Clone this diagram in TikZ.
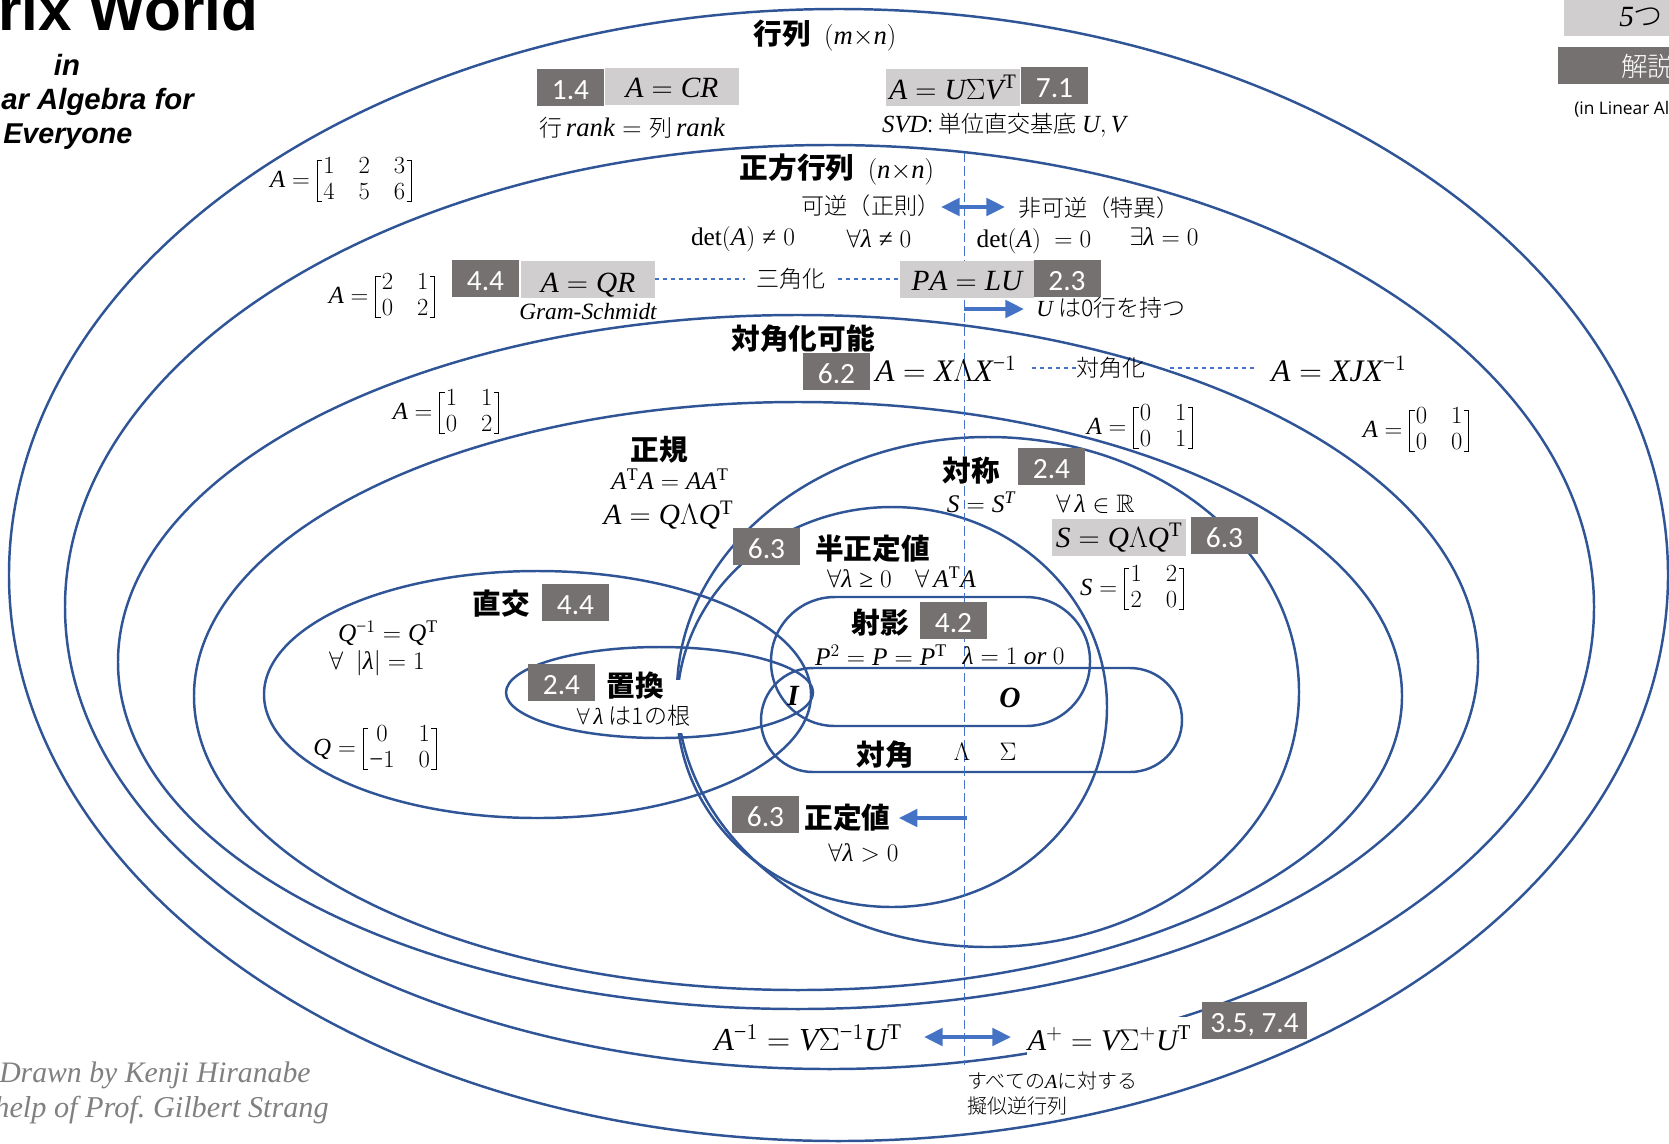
\RequirePackage{fix-cm}
\documentclass[tikz,border=0pt]{standalone}
\usepackage{amsmath,amssymb}
\usepackage{fontspec}
\setmainfont{Liberation Serif}
\usetikzlibrary{arrows.meta}
\newfontfamily\jpfont{Noto Sans CJK JP}
\newfontfamily\jplight{Noto Sans CJK JP Light}
\newfontfamily\lsans{Liberation Sans}
\newfontfamily\lserif{Liberation Serif}
\newfontfamily\calib{Carlito}
\newfontfamily\osans{Open Sans}
\DeclareSymbolFont{lsit}{TU}{\rmdefault}{m}{it}
\newcount\ltr
\ltr=`A \loop \Umathcode\ltr=7 \symlsit \ltr \ifnum\ltr<`Z \advance\ltr 1 \repeat
\ltr=`a \loop \Umathcode\ltr=7 \symlsit \ltr \ifnum\ltr<`z \advance\ltr 1 \repeat
\ltr=`0 \loop \Umathcode\ltr=7 \symoperators \ltr \ifnum\ltr<`9 \advance\ltr 1 \repeat
\Umathchardef\lambda=7 \symlsit "03BB
\Umathchardef\Sigma=7 \symoperators "03A3
\Umathchardef\Lambda=7 \symoperators "039B
\Umathcode`-=2 \symoperators "2212
\Umathcode`+=2 \symoperators `+
\Umathcode`==3 \symoperators `=
\Umathcode`(=4 \symoperators `(
\Umathcode`)=5 \symoperators `)
\Umathchardef\geq=3 \symoperators "2265
\let\neq\relax
\Umathchardef\neq=3 \symoperators "2260
\definecolor{arcblue}{HTML}{2F5597}
\definecolor{linkblue}{HTML}{4472C4}
\definecolor{boxdark}{HTML}{767171}
\definecolor{boxlight}{HTML}{D0CECE}
\newcommand{\brL}{\mathopen{\vcenter{\hbox{\vrule width .8pt height 32pt depth 0pt\kern-.8pt\vbox to 32pt{\hrule width 4pt height .8pt\vfill\hrule width 4pt height .8pt}\kern 1pt}}}}
\newcommand{\brR}{\mathclose{\vcenter{\hbox{\kern 1pt\vbox to 32pt{\hrule width 4pt height .8pt\vfill\hrule width 4pt height .8pt}\kern-.8pt\vrule width .8pt height 32pt depth 0pt}}}}
\newcommand{\mymat}[3][9pt]{\brL{\setlength{\arraycolsep}{#1}\begin{array}{@{}#2@{}}#3\end{array}}\brR}
\newcommand{\tp}{^{\mathrm{T}}}
\newcommand{\fwL}{\symbol{"FF08}}
\newcommand{\fwR}{\symbol{"FF09}}
\frenchspacing
\tikzset{
  every node/.style={inner sep=0pt,text=black},
  curve/.style={draw=arcblue,line width=1.85pt},
  dk/.style={fill=boxdark,text=white,minimum width=50.25pt,minimum height=27.75pt,text height=17.3pt,text depth=0pt,font=\fontsize{22}{24}\calib},
  lt/.style={fill=boxlight,minimum width=100.5pt,minimum height=27.75pt,font=\fontsize{22}{24}\selectfont},
  jb/.style={font=\fontsize{21.5}{24}\jpfont\bfseries},
  jp/.style={font=\fontsize{17.3}{20}\jplight},
  fbig/.style={font=\fontsize{22}{24}\selectfont},
  fmed/.style={font=\fontsize{19}{21}\selectfont},
  fmat/.style={font=\fontsize{18.5}{20}\selectfont},
  mixed/.style={font=\fontsize{17.3}{20}\jplight},
  titlef/.style={font=\fontsize{22}{24}\lsans\bfseries\itshape},
  credit/.style={font=\fontsize{22.3}{26}\lserif\itshape,text=black!50},
  link/.style={draw=linkblue,line width=0.8pt,dashed},
  bigarrow/.style={draw=linkblue,line width=3pt,-{Triangle[length=14pt,width=13pt]}},
  bigboth/.style={draw=linkblue,line width=3pt,{Triangle[length=14pt,width=13pt]}-{Triangle[length=14pt,width=13pt]}},
}
\begin{document}
\begin{tikzpicture}[x=0.75pt,y=-0.75pt]
\useasboundingbox (0,0) rectangle (1669,1143);
% nested regions
\draw[curve] (838.5,575) ellipse [x radius=829.5,y radius=566];
\draw[curve] (829.5,607) ellipse [x radius=764.5,y radius=462];
\draw[curve] (798,662) ellipse [x radius=680,y radius=347];
\draw[curve] (798,696) ellipse [x radius=604,y radius=294];
\draw[curve] (988,692) ellipse [x radius=311,y radius=255];
\draw[curve] (892,707) ellipse [x radius=215,y radius=200];
% white patches behind texts
\fill[white] (660,680) rectangle (695,733);
\fill[white] (1027,1017) rectangle (1190,1056);
% further regions
\draw[curve] (537.5,694.5) ellipse [x radius=273.5,y radius=123.5];
\draw[curve] (659.5,692.5) ellipse [x radius=153.5,y radius=45.5];
\draw[curve,rounded corners=48pt] (771,597) rectangle (1090,726);
\draw[curve,rounded corners=39pt] (761,668) rectangle (1182,772);
% dashed axis
\coordinate (axistop) at (964,153);
\coordinate (axisbot) at (964,1065);
\draw[draw=linkblue,line width=0.7pt,dash pattern=on 7pt off 3pt] (axistop) -- (axisbot);

% top left title
\node[anchor=east,font=\fontsize{45.2}{50}\lsans\bfseries] (title) at (258.5,9) {trix World};
\node[titlef] (tin) at (67,65) {in};
\node[titlef,anchor=east] (tla) at (194,102) {ar Algebra for};
\node[titlef,anchor=west,font=\fontsize{21.5}{24}\lsans\bfseries\itshape] (tev) at (3,137) {Everyone};
% credits
\node[credit,anchor=west] (cr1) at (-1,1075) {Drawn by Kenji Hiranabe};
\node[credit,anchor=east,font=\fontsize{22.7}{26}\lserif\itshape] (cr2) at (329,1110) {help of Prof. Gilbert Strang};
% top right
\fill[boxlight] (1564,0) rectangle (1669,36);
\node[anchor=west,font=\fontsize{22}{24}\lserif\itshape] (legAt) at (1619,17) {5\jplight\upshape つ};
\fill[boxdark] (1558,47) rectangle (1669,84);
\node[anchor=west,text=white,font=\fontsize{20}{24}\jplight] (legBt) at (1621,66) {解説};
\node[anchor=west,font=\fontsize{13}{16}\osans] (legC) at (1574,109) {(in Linear Al};

% matrices m x n
\node (mxn) at (825,36) {\fontsize{21.5}{24}\jpfont\bfseries 行列\ \ \normalfont\fontsize{20}{24}\selectfont$(m{\times}n)$};
\node[dk] (s14) at (570.5,87.5) {1.4};
\node[lt,text height=17.2pt,text depth=0pt] (cr) at (672,86.5) {$A=CR$};
\node[mixed] (rank) at (632,128) {行\,{\fontsize{20}{20}\selectfont$\mathit{rank}=$}\,\,列\,{\fontsize{20}{20}\selectfont$\mathit{rank}$}};
\node[lt] (svd) at (953,87.5) {$A=U\Sigma V\tp$};
\node[dk] (s71) at (1054.5,85.5) {7.1};
\node[mixed] (svdt) at (1004,125) {{\fontsize{18.5}{20}\selectfont$\mathit{SVD}$:} 単位直交基底 {\fontsize{18.5}{20}\selectfont$U,V$}};
\node[fmat] (m123) at (341,181) {$A=\mymat{ccc}{1&2&3\\4&5&6}$};

% square
\node (nxn) at (837,169) {\fontsize{21.5}{24}\jpfont\bfseries 正方行列\ \ \normalfont\fontsize{20}{24}\selectfont$(n{\times}n)$};
\node[jp] (inv) at (871,206) {可逆\fwL 正則\fwR};
\node[jp] (noninv) at (1099,208) {非可逆\fwL 特異\fwR};
\coordinate (dblL) at (941,207);
\coordinate (dblR) at (1005,207);
\draw[bigboth] (dblL) -- (dblR);
\node[fmed] (det1) at (743,239) {$\det(A)\neq 0$};
\node[fmed] (all1) at (879,239) {$\forall\lambda\neq 0$};
\node[fmed] (det0) at (1034,241) {$\det(A)\ =0$};
\node[fmed] (ex0) at (1164,237) {$\exists\lambda=0$};
\node[fmat] (m2102) at (382,297) {$A=\mymat{cc}{2&1\\0&2}$};
\node[dk] (s44a) at (485.5,278.5) {4.4};
\node[lt,text height=19.5pt,text depth=0pt] (qr) at (588,279) {$A=QR$};
\node[font=\fontsize{17.5}{20}\lserif\itshape] (gs) at (588,312) {Gram-Schmidt};
\node[jp] (tri) at (791,279) {三角化};
\node[lt,text height=16.5pt,text depth=0pt] (lu) at (967,279) {$PA=LU$};
\node[dk] (s23) at (1067,278.5) {2.3};
\draw[link,shorten >=8pt] (qr) -- (tri);
\draw[link,shorten <=9pt] (tri) -- (lu);
\node[mixed] (uzero) at (1111,308) {$U$ は0行を持つ};
\coordinate (uarrow) at (964,309);
\draw[bigarrow] (uarrow) -- (1024,309);

% diagonalizable
\node[jb] (dia) at (803,339) {対角化可能};
\node[dk] (s62) at (836.5,371.5) {6.2};
\node[fbig,font=\fontsize{23.5}{26}\selectfont] (xlx) at (946,369) {$A=X\Lambda X^{-1}$};
\node[jp] (dlab) at (1111,368) {対角化};
\node[fbig,font=\fontsize{23.5}{26}\selectfont] (xjx) at (1339,369) {$A=XJX^{-1}$};
\draw[link,shorten <=11pt] (xlx.east |- dlab) -- (dlab);
\draw[link,shorten <=18pt,shorten >=13pt] (dlab) -- (xjx.west |- dlab);
\node[fmat] (m1102) at (446,413) {$A=\mymat{cc}{1&1\\0&2}$};
\node[fmat] (m0101) at (1140,428) {$A=\mymat{cc}{0&1\\0&1}$};
\node[fmat] (m0100) at (1416,431) {$A=\mymat{cc}{0&1\\0&0}$};

% normal
\node[jb] (nor) at (659.5,450) {正規};
\node[fmed] (ata) at (670,479) {$A\tp A=AA\tp$};
\node[fbig] (qlq) at (668.5,515) {$A=Q\Lambda Q\tp$};

% semidefinite
\node[dk] (s63a) at (766.5,546.5) {6.3};
\node[jb] (semi) at (872.5,549) {半正定値};
\node[fmed] (sd1) at (859.5,579) {$\forall\lambda\geq 0$};
\node[fmed] (sd2) at (945.5,577) {$\forall\,A\tp A$};

% orthogonal
\node[jb] (ort) at (501.5,604) {直交};
\node[dk] (s44b) at (575.5,602.5) {4.4};
\node[fmed] (qi) at (388,633) {$Q^{-1}=Q\tp$};
\node[fmed] (lam1) at (377,663) {$\forall\ \ |\lambda|=1$};
\node[fmat] (m0110) at (375,749) {$Q=\mymat{cc}{0&1\\-1&0}$};

% permutation
\node[dk] (s24a) at (561.5,682.5) {2.4};
\node[jb] (per) at (635.5,686) {置換};
\node[mixed] (root) at (633.5,716) {$\forall\,\lambda$ は1の根};
\node[font=\fontsize{22}{24}\lserif\bfseries\itshape] (idn) at (793,696) {I};

% projection
\node[jb] (pro) at (880.5,623) {射影};
\node[dk] (s42) at (953.5,620.5) {4.2};
\node[fmed] (pp) at (881,655) {$P^2=P=P\tp$};
\node[fmed] (l10) at (1013.5,656) {$\lambda=1\ \mathit{or}\ 0$};
\node[font=\fontsize{22}{24}\lserif\bfseries\itshape] (zer) at (1010,698) {O};

% diagonal
\node[jb] (dig) at (885,755) {対角};
\node[fmed] (Lam) at (962,752) {$\Lambda$};
\node[fmed] (Sig) at (1008,752) {$\Sigma$};

% positive definite
\node[dk] (s63b) at (765.5,814.5) {6.3};
\node[jb] (pos) at (847.5,818) {正定値};
\coordinate (parrow) at (967,818);
\draw[bigarrow,shorten >=6pt] (parrow) -- (pos.east);
\node[fmed] (pd) at (863.5,853) {$\forall\lambda>0$};

% symmetric
\node[jb] (sym) at (971,471) {対称};
\node[dk] (s24b) at (1051.5,466.5) {2.4};
\node[fmed] (sst) at (981,502) {$S=S^{T}$};
\node[fmed] (real) at (1095.5,504) {$\forall\,\lambda\in\mathbb{R}$};
\node[lt] (sql) at (1119,537.5) {$S=Q\Lambda Q\tp$};
\node[dk] (s63c) at (1224.5,535.5) {6.3};
\node[fmat] (m1220) at (1132,589) {$S=\mymat{cc}{1&2\\2&0}$};

% bottom
\node[fbig,font=\fontsize{24}{26}\selectfont] (ainv) at (808,1038) {$A^{-1}=V\Sigma^{-1}U\tp$};
\node[fbig,font=\fontsize{22.5}{26}\selectfont] (apl) at (1109.5,1038) {$A^{+}=V\Sigma^{+}U\tp$};
\coordinate (botL) at (924,1037);
\coordinate (botR) at (1011,1037);
\draw[bigboth] (botL) -- (botR);
\node[dk,minimum width=78.75pt] (s35) at (1254.5,1020.5) {3.5, 7.4};
\node[font=\fontsize{15}{18}\jplight,anchor=west] (all) at (967,1081) {すべての$A$に対する};
\node[font=\fontsize{15}{18}\jplight,anchor=west] (pinv) at (967,1106) {擬似逆行列};
\end{tikzpicture}
\end{document}
